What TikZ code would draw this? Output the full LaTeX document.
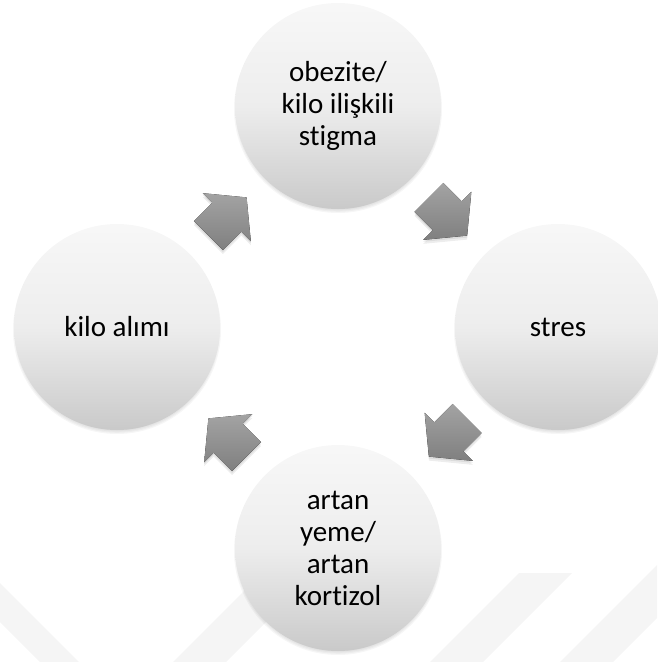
\documentclass[tikz,border=0pt]{standalone}
\usepackage{fontspec}
\setmainfont{Carlito}[Ligatures=NoCommon]
\usetikzlibrary{calc}
\begin{document}
\begin{tikzpicture}[x=1pt,y=-1pt,
  cyc/.style={circle, minimum size=206pt, inner sep=0pt, top color=black!3, bottom color=black!21, middle color=black!7, font=\fontsize{29}{32}\selectfont, align=center, text=black},
  band/.style={fill=black!4},
  blockarrow/.style={top color=black!36, bottom color=black!50},
  arrowshadow/.style={fill=black, opacity=0.07},
]
\useasboundingbox (0,0) rectangle (657,662);
% faint watermark bands
\fill[band] (0,583) -- (79,662) -- (40,662) -- (0,622) -- cycle;
\fill[band] (173,662) -- (275,560) -- (328,560) -- (226,662) -- cycle;
\fill[band] (430,662) -- (519,573) -- (572,573) -- (483,662) -- cycle;
\fill[band] (560,662) -- (657,565) -- (657,618) -- (613,662) -- cycle;
% centres
\coordinate (pT) at (338,106);
\coordinate (pR) at (558,327);
\coordinate (pB) at (338,548);
\coordinate (pL) at (117,327);
% soft shadows of circles
\foreach \p in {pT,pR,pB,pL}{
  \foreach \i in {0,...,5}{
    \fill[black,opacity=0.035] ($(\p)+(0,3)$) circle [radius={98pt+\i*1.2pt}];
  }
}
% circles
\node[cyc] (stig) at (pT) {obezite/\\kilo ilişkili\\stigma};
\node[cyc] (stres) at (pR) {stres};
\node[cyc] (kort) at (pB) {artan\\yeme/\\artan\\kortizol};
\node[cyc] (kilo) at (pL) {kilo alımı};
% block arrows
\foreach \a/\b/\ang in {kilo/stig/45, stig/stres/-45, stres/kort/-135, kort/kilo/135}{
  \coordinate (m) at ($(\a.center)!0.5!(\b.center)$);
  \foreach \s in {2,4}{
    \begin{scope}[shift={($(m)+(0,\s)$)}, rotate=\ang]
      \fill[arrowshadow] (-27,-20.5) -- (-1,-20.5) -- (-1,-34) -- (27,0) -- (-1,34) -- (-1,20.5) -- (-27,20.5) -- cycle;
    \end{scope}
  }
  \begin{scope}[shift={(m)}, rotate=\ang]
    \fill[blockarrow] (-27,-20.5) -- (-1,-20.5) -- (-1,-34) -- (27,0) -- (-1,34) -- (-1,20.5) -- (-27,20.5) -- cycle;
  \end{scope}
}
\end{tikzpicture}
\end{document}
